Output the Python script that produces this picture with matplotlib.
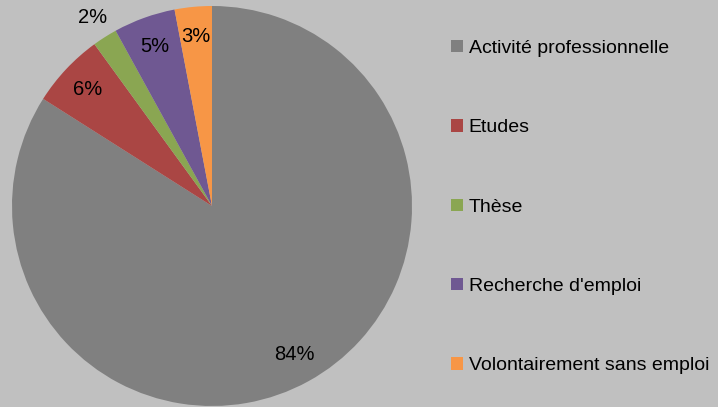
import matplotlib
matplotlib.use('Agg')
import matplotlib.pyplot as plt

# données
labels = ['Activité professionnelle', 'Etudes', 'Thèse', "Recherche d'emploi", 'Volontairement sans emploi']
values = [84, 6, 2, 5, 3]
colors = ['#808080', '#aa4644', '#8aa652', '#6f5892', '#f79646']

plt.rcParams['font.family'] = ['Liberation Sans', 'DejaVu Sans']

W, H = 718, 407
fig = plt.figure(figsize=(W / 100, H / 100), dpi=100, facecolor='#c0c0c0')
ax = fig.add_axes([0, 0, 1, 1])
ax.set_facecolor('#c0c0c0')

wedges, texts, autotexts = ax.pie(values, colors=colors, startangle=90, counterclock=False,
                                  center=(212, H - 206), radius=200, frame=True,
                                  autopct='%1.0f%%', pctdistance=0.85,
                                  textprops={'fontsize': 14.5, 'color': 'black'})
# le 2% est placé à l'extérieur
x, y = autotexts[2].get_position()
cx, cy = 212, H - 206
autotexts[2].set_position((cx + (x - cx) * 1.115 / 0.85, cy + (y - cy) * 1.115 / 0.85))

ax.set_xlim(0, W)
ax.set_ylim(0, H)
ax.set_aspect('equal')
ax.axis('off')

leg = ax.legend(wedges, labels, loc='upper left', bbox_to_anchor=(443 / W, 1 - 32 / H),
                frameon=False, fontsize=14, handlelength=0.62, handleheight=0.62,
                handletextpad=0.3, labelspacing=3.2, borderaxespad=0)

fig.savefig('out.png', dpi=100, facecolor='#c0c0c0')
